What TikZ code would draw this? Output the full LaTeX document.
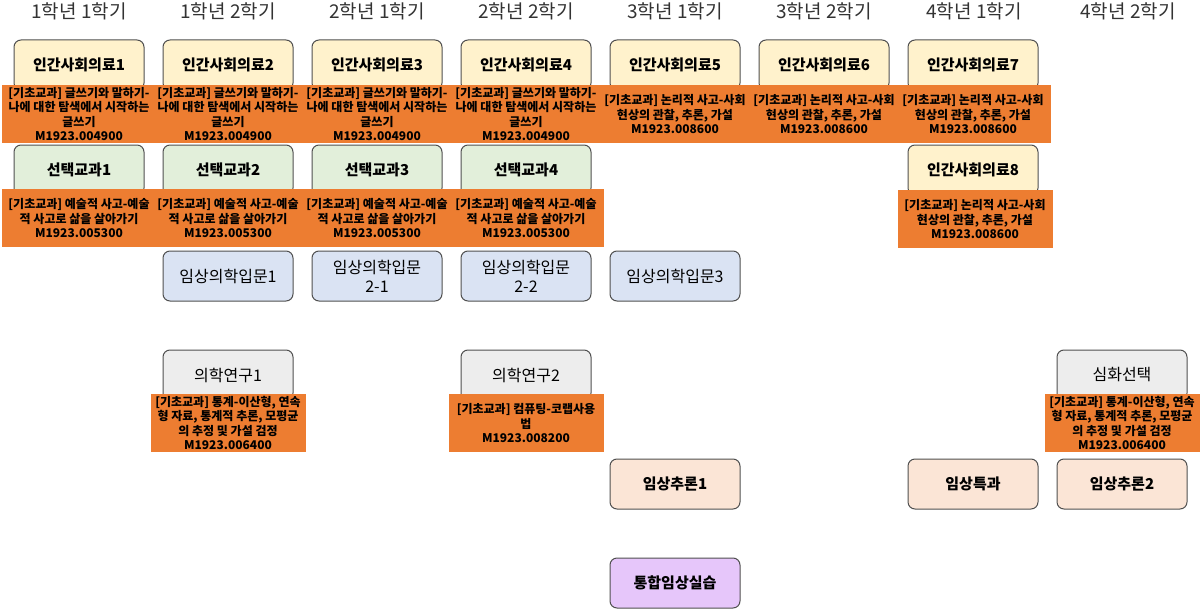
\documentclass[tikz,border=0pt]{standalone}
\usepackage{fontspec}
\setmainfont{Noto Sans CJK KR}
\definecolor{yel}{HTML}{FFF2CC}
\definecolor{grn}{HTML}{E2EFDA}
\definecolor{blu}{HTML}{DAE3F3}
\definecolor{gry}{HTML}{EDEDED}
\definecolor{pch}{HTML}{FBE5D6}
\definecolor{pur}{HTML}{E6C6FA}
\definecolor{org}{HTML}{ED7D31}
\definecolor{bord}{HTML}{505050}
\definecolor{hdrgray}{HTML}{333333}
\tikzset{
  course/.style={draw=bord, line width=1pt, rounded corners=7pt, minimum width=130pt,
    minimum height=50pt, inner sep=0pt, align=center, font=\bfseries\fontsize{15}{17}\selectfont},
  coursereg/.style={course, font=\fontsize{16}{19}\selectfont},
  hsr/.style={course, fill=yel},
  sel/.style={course, fill=grn},
  intro/.style={coursereg, fill=blu},
  research/.style={coursereg, fill=gry},
  clin/.style={course, fill=pch},
  integ/.style={course, fill=pur},
  basebox/.style={fill=org, minimum width=155pt, minimum height=58pt, inner sep=0pt,
    align=center, anchor=north, text=black, font=\bfseries\fontsize{12}{14.5}\selectfont},
  hdr/.style={font=\fontsize{19}{22}\selectfont, text=hdrgray}
}
\begin{document}
\begin{tikzpicture}[x=1pt,y=-1pt]
\useasboundingbox (0,0) rectangle (1200,610);
% headers
\node[hdr] (h1) at (79,11) {1학년 1학기};
\node[hdr] (h2) at (228,11) {1학년 2학기};
\node[hdr] (h3) at (377,11) {2학년 1학기};
\node[hdr] (h4) at (526,11) {2학년 2학기};
\node[hdr] (h5) at (675,11) {3학년 1학기};
\node[hdr] (h6) at (824,11) {3학년 2학기};
\node[hdr] (h7) at (974,11) {4학년 1학기};
\node[hdr] (h8) at (1128,11) {4학년 2학기};
% row 1
\node[hsr] (a1) at (79,65) {인간사회의료1};
\node[hsr] (a2) at (228,65) {인간사회의료2};
\node[hsr] (a3) at (377,65) {인간사회의료3};
\node[hsr] (a4) at (526,65) {인간사회의료4};
\node[hsr] (a5) at (675,65) {인간사회의료5};
\node[hsr] (a6) at (824,65) {인간사회의료6};
\node[hsr] (a7) at (973,65) {인간사회의료7};
\node[basebox] (o1) at (79,85) {[기초교과] 글쓰기와 말하기-\\나에 대한 탐색에서 시작하는\\글쓰기\\M1923.004900};
\node[basebox] (o2) at (228,85) {[기초교과] 글쓰기와 말하기-\\나에 대한 탐색에서 시작하는\\글쓰기\\M1923.004900};
\node[basebox] (o3) at (377,85) {[기초교과] 글쓰기와 말하기-\\나에 대한 탐색에서 시작하는\\글쓰기\\M1923.004900};
\node[basebox] (o4) at (526,85) {[기초교과] 글쓰기와 말하기-\\나에 대한 탐색에서 시작하는\\글쓰기\\M1923.004900};
\node[basebox] (o5) at (675,85) {[기초교과] 논리적 사고-사회\\현상의 관찰, 추론, 가설\\M1923.008600};
\node[basebox] (o6) at (824,85) {[기초교과] 논리적 사고-사회\\현상의 관찰, 추론, 가설\\M1923.008600};
\node[basebox] (o7) at (973,85) {[기초교과] 논리적 사고-사회\\현상의 관찰, 추론, 가설\\M1923.008600};
% row 2
\node[sel] (b1) at (79,170) {선택교과1};
\node[sel] (b2) at (228,170) {선택교과2};
\node[sel] (b3) at (377,170) {선택교과3};
\node[sel] (b4) at (526,170) {선택교과4};
\node[hsr] (a8) at (973,170) {인간사회의료8};
\node[basebox] (p1) at (79,189) {[기초교과] 예술적 사고-예술\\적 사고로 삶을 살아가기\\M1923.005300};
\node[basebox] (p2) at (228,189) {[기초교과] 예술적 사고-예술\\적 사고로 삶을 살아가기\\M1923.005300};
\node[basebox] (p3) at (377,189) {[기초교과] 예술적 사고-예술\\적 사고로 삶을 살아가기\\M1923.005300};
\node[basebox] (p4) at (526,189) {[기초교과] 예술적 사고-예술\\적 사고로 삶을 살아가기\\M1923.005300};
\node[basebox] (p7) at (975,190) {[기초교과] 논리적 사고-사회\\현상의 관찰, 추론, 가설\\M1923.008600};
% row 3
\node[intro] (c2) at (228,276) {임상의학입문1};
\node[intro] (c3) at (377,276) {임상의학입문\\2-1};
\node[intro] (c4) at (526,276) {임상의학입문\\2-2};
\node[intro] (c5) at (675,276) {임상의학입문3};
% row 4
\node[research] (d2) at (228,375) {의학연구1};
\node[research] (d4) at (526,375) {의학연구2};
\node[research] (d8) at (1122,375) {심화선택};
\node[basebox] (q2) at (228,394) {[기초교과] 통계-이산형, 연속\\형 자료, 통계적 추론, 모평균\\의 추정 및 가설 검정\\M1923.006400};
\node[basebox] (q4) at (526,394) {[기초교과] 컴퓨팅-코랩사용\\법\\M1923.008200};
\node[basebox] (q8) at (1122,394) {[기초교과] 통계-이산형, 연속\\형 자료, 통계적 추론, 모평균\\의 추정 및 가설 검정\\M1923.006400};
% row 5
\node[clin] (e5) at (675,484) {임상추론1};
\node[clin] (e7) at (973,484) {임상특과};
\node[clin] (e8) at (1122,484) {임상추론2};
% row 6
\node[integ] (f5) at (675,583) {통합임상실습};
\end{tikzpicture}
\end{document}
